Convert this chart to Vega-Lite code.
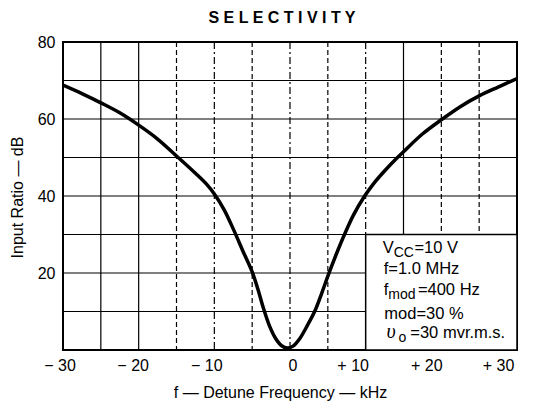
{
  "$schema": "https://vega.github.io/schema/vega-lite/v6.json",
  "width": 454,
  "height": 308,
  "autosize": {"type": "none"},
  "padding": {"left": 63, "top": 42, "right": 24, "bottom": 63},
  "background": "white",
  "config": {"view": {"stroke": "black", "strokeWidth": 2}, "font": "Liberation Sans"},
  "title": {"text": "S E L E C T I V I T Y", "font": "Liberation Sans", "fontSize": 16, "fontWeight": "bold", "baseline": "alphabetic", "offset": 17, "dy": 22, "dx": -8, "anchor": "middle", "color": "black"},
  "layer": [
    {
      "data": {"values": [{"v": 10}, {"v": 20}, {"v": 30}, {"v": 40}, {"v": 50}, {"v": 60}, {"v": 70}]},
      "mark": {"type": "rule", "color": "black", "strokeWidth": 1.2},
      "encoding": {"y": {"field": "v", "type": "quantitative"}}
    },
    {
      "data": {"values": [{"v": -25}, {"v": -20}, {"v": 15}]},
      "mark": {"type": "rule", "color": "black", "strokeWidth": 1.2},
      "encoding": {"x": {"field": "v", "type": "quantitative"}}
    },
    {
      "data": {"values": [{"v": -15}, {"v": -5}, {"v": 5}, {"v": 20}, {"v": 25}]},
      "mark": {"type": "rule", "color": "black", "strokeWidth": 1.2, "strokeDash": [5, 3]},
      "encoding": {"x": {"field": "v", "type": "quantitative"}}
    },
    {
      "data": {"values": [{"v": -10}, {"v": 0}, {"v": 10}]},
      "mark": {"type": "rule", "color": "black", "strokeWidth": 1.2, "strokeDash": [7, 3, 2, 3]},
      "encoding": {"x": {"field": "v", "type": "quantitative"}}
    },
    {
      "data": {"values": [{"x1": 10, "x2": 30, "y1": 0, "y2": 30}]},
      "mark": {"type": "rect", "fill": "white", "stroke": "black", "strokeWidth": 1.5},
      "encoding": {
        "x": {"field": "x1", "type": "quantitative"}, "x2": {"field": "x2"},
        "y": {"field": "y1", "type": "quantitative"}, "y2": {"field": "y2"}
      }
    },
    {
      "data": {"values": [
        {"f": -30, "db": 68.8}, {"f": -27.5, "db": 66.6}, {"f": -25, "db": 64.2}, {"f": -22.5, "db": 61.6},
        {"f": -20, "db": 58.4}, {"f": -17.5, "db": 54.8}, {"f": -15, "db": 50.4}, {"f": -12.5, "db": 45.9},
        {"f": -11, "db": 43.0}, {"f": -10, "db": 40.5}, {"f": -8.7, "db": 36.4}, {"f": -7.4, "db": 31.0},
        {"f": -6.2, "db": 25.6}, {"f": -5, "db": 20.3}, {"f": -4.2, "db": 15.5}, {"f": -3.5, "db": 10.8},
        {"f": -2.7, "db": 6.2}, {"f": -1.9, "db": 3}, {"f": -1.1, "db": 1.1}, {"f": -0.35, "db": 0.5},
        {"f": 0.4, "db": 1.0}, {"f": 1.3, "db": 3.0}, {"f": 2.3, "db": 6.4}, {"f": 3.3, "db": 10.2},
        {"f": 4.2, "db": 14.8}, {"f": 5.1, "db": 19.7}, {"f": 6.1, "db": 24.8}, {"f": 7.2, "db": 30},
        {"f": 8.4, "db": 35.1}, {"f": 9.8, "db": 39.8}, {"f": 11, "db": 43.1}, {"f": 12.4, "db": 46.3},
        {"f": 14.1, "db": 49.8}, {"f": 15, "db": 51.5}, {"f": 17.5, "db": 56.1}, {"f": 20, "db": 59.8},
        {"f": 22.5, "db": 63.2}, {"f": 25, "db": 66}, {"f": 27.5, "db": 68.3}, {"f": 30, "db": 70.5}
      ]},
      "mark": {"type": "line", "color": "black", "strokeWidth": 3.5, "interpolate": "catmull-rom", "clip": true},
      "encoding": {
        "x": {"field": "f", "type": "quantitative",
          "scale": {"domain": [-30, 30], "nice": false, "zero": false},
          "axis": {
            "values": [-30, -20, -10, 0, 10, 20, 30],
            "title": "f — Detune Frequency — kHz",
            "labelExpr": "datum.value == 0 ? '0' : (datum.value > 0 ? '+ ' + datum.value : '− ' + abs(datum.value))",
            "ticks": false, "tickSize": 0, "domain": false, "grid": false,
            "labelFont": "Liberation Sans", "labelFontSize": 16, "labelColor": "black", "labelPadding": 7,
            "labelOffset": {"condition": [
              {"test": "datum.value == -30", "value": -3.5},
              {"test": "datum.value == -20", "value": -6},
              {"test": "datum.value == -10", "value": -8},
              {"test": "datum.value == 0", "value": 2.5},
              {"test": "datum.value == 10", "value": -13},
              {"test": "datum.value == 20", "value": -15}
            ], "value": -19},
            "labelFlush": false, "labelOverlap": false,
            "titleFont": "Liberation Sans", "titleFontSize": 16, "titleFontWeight": "normal", "titleColor": "black",
            "titleX": 217, "titleY": 47, "titleBaseline": "alphabetic", "titleAlign": "center"
          }},
        "y": {"field": "db", "type": "quantitative",
          "scale": {"domain": [0, 80], "nice": false},
          "axis": {
            "values": [20, 40, 60, 80],
            "title": "Input Ratio — dB",
            "ticks": false, "tickSize": 0, "domain": false, "grid": false,
            "labelFont": "Liberation Sans", "labelFontSize": 16, "labelColor": "black", "labelPadding": 8,
            "labelFlush": false, "labelOverlap": false,
            "titleFont": "Liberation Sans", "titleFontSize": 16, "titleFontWeight": "normal", "titleColor": "black",
            "titleX": -40.5, "titleY": 155, "titleBaseline": "alphabetic", "titleAlign": "center", "titleAngle": -90
          }}
      }
    },
    {
      "data": {"values": [
        {"x": 12.25, "y": 25.1, "t": "V"},
        {"x": 16.45, "y": 25.1, "t": "=10 V"},
        {"x": 12.38, "y": 19.7, "t": "f=1.0 MHz"},
        {"x": 12.38, "y": 14.3, "t": "f"},
        {"x": 16.9, "y": 14.3, "t": "=400 Hz"},
        {"x": 12.47, "y": 7.97, "t": "mod=30 %"},
        {"x": 15.9, "y": 3.04, "t": "=30 mvr.m.s."}
      ]},
      "mark": {"type": "text", "align": "left", "baseline": "alphabetic", "font": "Liberation Sans", "fontSize": 16.5, "color": "black"},
      "encoding": {
        "x": {"field": "x", "type": "quantitative"},
        "y": {"field": "y", "type": "quantitative"},
        "text": {"field": "t"}
      }
    },
    {
      "data": {"values": [
        {"x": 13.7, "y": 25.1, "t": "CC"},
        {"x": 12.99, "y": 14.3, "t": "mod"},
        {"x": 14.35, "y": 3.04, "t": "o"}
      ]},
      "mark": {"type": "text", "align": "left", "baseline": "alphabetic", "font": "Liberation Sans", "fontSize": 14, "dy": 4, "color": "black"},
      "encoding": {
        "x": {"field": "x", "type": "quantitative"},
        "y": {"field": "y", "type": "quantitative"},
        "text": {"field": "t"}
      }
    },
    {
      "data": {"values": [{"x": 12.75, "y": 3.04, "t": "υ"}]},
      "mark": {"type": "text", "align": "left", "baseline": "alphabetic", "font": "Liberation Serif", "fontSize": 20, "fontStyle": "italic", "color": "black"},
      "encoding": {
        "x": {"field": "x", "type": "quantitative"},
        "y": {"field": "y", "type": "quantitative"},
        "text": {"field": "t"}
      }
    }
  ]
}
